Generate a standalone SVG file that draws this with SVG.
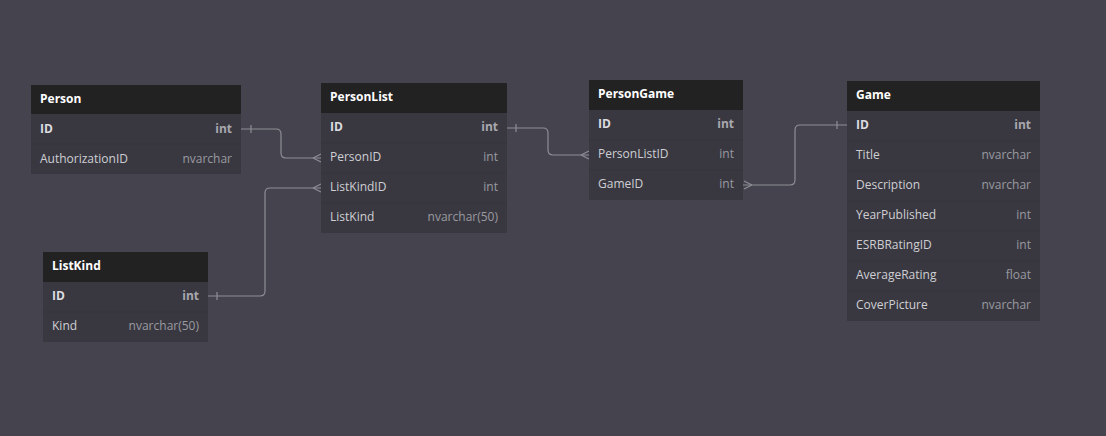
<svg xmlns="http://www.w3.org/2000/svg" width="1106" height="436" viewBox="0 0 1106 436">
<style>
.hd{fill:#222222}
.bd{fill:#393841}
.sep{stroke:#36353e;stroke-width:1}
.t{font-family:"Open Sans","Noto Sans",sans-serif;font-size:12px}
.title{font-weight:bold;fill:#ffffff}
.fn{fill:#cfcfd3}
.pk{font-weight:bold;fill:#dcdce0}
.ty{fill:#9a9aa0;text-anchor:end}
.pkt{font-weight:bold;fill:#a8a8ae;text-anchor:end}
.c{fill:none;stroke:#8e8e96;stroke-width:1.2}
</style>
<rect width="1106" height="436" fill="#45444e"/>
<g id="connectors" class="c">
  <path d="M241,129 H276 Q281,129 281,134 V153 Q281,158 286,158 H321"/>
  <path d="M251,125 V133"/>
  <path d="M313,158 L321,154 M313,158 L321,162"/>
  <path d="M208,296 H260 Q265,296 265,291 V193 Q265,188 270,188 H321"/>
  <path d="M217,292 V300"/>
  <path d="M313,188 L321,184 M313,188 L321,192"/>
  <path d="M507,128 H543 Q548,128 548,133 V150 Q548,155 553,155 H589"/>
  <path d="M516,124 V132"/>
  <path d="M581,155 L589,151 M581,155 L589,159"/>
  <path d="M847,125 H800 Q795,125 795,130 V180 Q795,185 790,185 H743"/>
  <path d="M837,121 V129"/>
  <path d="M752,185 L744,181 M752,185 L744,189"/>
</g>
<g id="Person">
  <rect class="bd" x="31" y="114" width="210" height="60"/>
  <rect class="hd" x="31" y="85" width="210" height="29"/>
  <line class="sep" x1="31" y1="144" x2="241" y2="144"/>
  <text class="t title" x="40" y="102.5">Person</text>
  <text class="t pk" x="40" y="132.5">ID</text><text class="t pkt" x="232" y="132.5">int</text>
  <text class="t fn" x="40" y="162.5">AuthorizationID</text><text class="t ty" x="232" y="162.5">nvarchar</text>
</g>
<g id="PersonList">
  <rect class="bd" x="321" y="113" width="186" height="120"/>
  <rect class="hd" x="321" y="83" width="186" height="30"/>
  <line class="sep" x1="321" y1="143" x2="507" y2="143"/>
  <line class="sep" x1="321" y1="173" x2="507" y2="173"/>
  <line class="sep" x1="321" y1="203" x2="507" y2="203"/>
  <text class="t title" x="330" y="100.5">PersonList</text>
  <text class="t pk" x="330" y="130.5">ID</text><text class="t pkt" x="498" y="130.5">int</text>
  <text class="t fn" x="330" y="160.5">PersonID</text><text class="t ty" x="498" y="160.5">int</text>
  <text class="t fn" x="330" y="190.5">ListKindID</text><text class="t ty" x="498" y="190.5">int</text>
  <text class="t fn" x="330" y="220.5">ListKind</text><text class="t ty" x="498" y="220.5">nvarchar(50)</text>
</g>
<g id="ListKind">
  <rect class="bd" x="43" y="282" width="165" height="60"/>
  <rect class="hd" x="43" y="252" width="165" height="30"/>
  <line class="sep" x1="43" y1="312" x2="208" y2="312"/>
  <text class="t title" x="52" y="269.5">ListKind</text>
  <text class="t pk" x="52" y="299.5">ID</text><text class="t pkt" x="199" y="299.5">int</text>
  <text class="t fn" x="52" y="329.5">Kind</text><text class="t ty" x="199" y="329.5">nvarchar(50)</text>
</g>
<g id="PersonGame">
  <rect class="bd" x="589" y="110" width="154" height="90"/>
  <rect class="hd" x="589" y="80" width="154" height="30"/>
  <line class="sep" x1="589" y1="140" x2="743" y2="140"/>
  <line class="sep" x1="589" y1="170" x2="743" y2="170"/>
  <text class="t title" x="598" y="97.5">PersonGame</text>
  <text class="t pk" x="598" y="127.5">ID</text><text class="t pkt" x="734" y="127.5">int</text>
  <text class="t fn" x="598" y="157.5">PersonListID</text><text class="t ty" x="734" y="157.5">int</text>
  <text class="t fn" x="598" y="187.5">GameID</text><text class="t ty" x="734" y="187.5">int</text>
</g>
<g id="Game">
  <rect class="bd" x="847" y="111" width="193" height="210"/>
  <rect class="hd" x="847" y="81" width="193" height="30"/>
  <line class="sep" x1="847" y1="141" x2="1040" y2="141"/>
  <line class="sep" x1="847" y1="171" x2="1040" y2="171"/>
  <line class="sep" x1="847" y1="201" x2="1040" y2="201"/>
  <line class="sep" x1="847" y1="231" x2="1040" y2="231"/>
  <line class="sep" x1="847" y1="261" x2="1040" y2="261"/>
  <line class="sep" x1="847" y1="291" x2="1040" y2="291"/>
  <text class="t title" x="856" y="98.5">Game</text>
  <text class="t pk" x="856" y="128.5">ID</text><text class="t pkt" x="1031" y="128.5">int</text>
  <text class="t fn" x="856" y="158.5">Title</text><text class="t ty" x="1031" y="158.5">nvarchar</text>
  <text class="t fn" x="856" y="188.5">Description</text><text class="t ty" x="1031" y="188.5">nvarchar</text>
  <text class="t fn" x="856" y="218.5">YearPublished</text><text class="t ty" x="1031" y="218.5">int</text>
  <text class="t fn" x="856" y="248.5">ESRBRatingID</text><text class="t ty" x="1031" y="248.5">int</text>
  <text class="t fn" x="856" y="278.5">AverageRating</text><text class="t ty" x="1031" y="278.5">float</text>
  <text class="t fn" x="856" y="308.5">CoverPicture</text><text class="t ty" x="1031" y="308.5">nvarchar</text>
</g>
</svg>
